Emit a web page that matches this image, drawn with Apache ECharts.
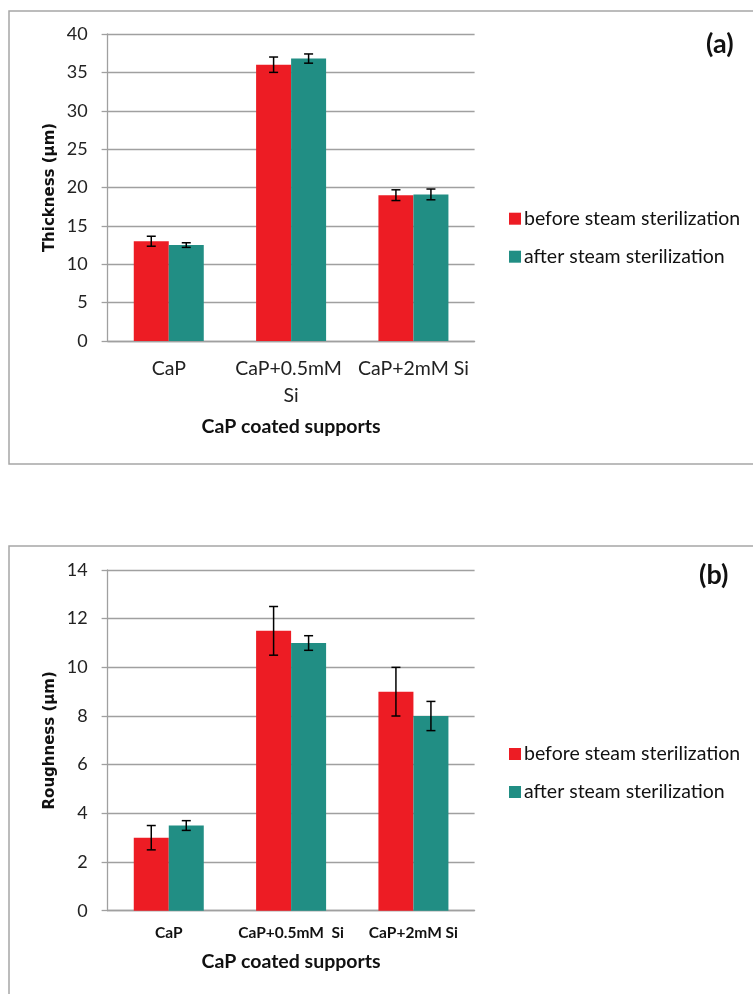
<!DOCTYPE html>
<html><head><meta charset="utf-8">
<script src="https://cdn.jsdelivr.net/npm/echarts@6/dist/echarts.min.js"></script>
<style>html,body{margin:0;padding:0;background:#fff}#c{width:753px;height:994px}</style>
</head><body><div id="c"></div>
<script>
const categoriesA = ['CaP', 'CaP+0.5mM Si', 'CaP+2mM Si'];
const categoriesB = ['CaP', 'CaP+0.5mM  Si', 'CaP+2mM Si'];
const seriesNames = ['before steam sterilization', 'after steam sterilization'];
const thicknessBefore = [13, 36, 19];
const thicknessBeforeErr = [0.65, 1.0, 0.7];
const thicknessAfter = [12.5, 36.8, 19.1];
const thicknessAfterErr = [0.3, 0.6, 0.7];
const roughnessBefore = [3, 11.5, 9];
const roughnessBeforeErr = [0.5, 1.0, 1.0];
const roughnessAfter = [3.5, 11, 8];
const roughnessAfterErr = [0.2, 0.3, 0.6];
const thicknessAxis = { min: 0, max: 40, interval: 5 };
const roughnessAxis = { min: 0, max: 14, interval: 2 };

const RED = '#ED1C24', TEAL = '#218E84';
const FONT = 'Lato';
const GRIDC = '#a0a0a0';
const BW = 35;

function errSeries(xi, vals, errs, offset) {
  return {
    type: 'custom', xAxisIndex: xi, yAxisIndex: xi, silent: true, z: 10,
    data: vals.map((v, i) => [i, v - errs[i], v + errs[i]]),
    encode: { x: 0, y: [1, 2] },
    renderItem: function (params, api) {
      const lo = api.coord([api.value(0), api.value(1)]);
      const hi = api.coord([api.value(0), api.value(2)]);
      const x = lo[0] + offset, hw = 4.5;
      const st = { stroke: '#000', lineWidth: 1.5 };
      return { type: 'group', children: [
        { type: 'line', shape: { x1: x, y1: lo[1], x2: x, y2: hi[1] }, style: st },
        { type: 'line', shape: { x1: x - hw, y1: lo[1], x2: x + hw, y2: lo[1] }, style: st },
        { type: 'line', shape: { x1: x - hw, y1: hi[1], x2: x + hw, y2: hi[1] }, style: st }
      ]};
    }
  };
}

function yAx(gi, ax, name, gap) {
  return {
    type: 'value', gridIndex: gi, min: ax.min, max: ax.max, interval: ax.interval,
    name: name, nameLocation: 'middle', nameGap: gap,
    nameTextStyle: { fontFamily: 'DejaVu Sans', fontWeight: 'bold', fontSize: 15, color: '#111' },
    axisLine: { show: true, lineStyle: { color: GRIDC, width: 1.3 } },
    axisTick: { show: true, length: 6, lineStyle: { color: GRIDC, width: 1.3 } },
    axisLabel: { margin: 20, fontFamily: FONT, fontSize: 18, color: '#222' },
    splitLine: { show: true, lineStyle: { color: GRIDC, width: 1.3 } }
  };
}

function legend(top) {
  return { orient: 'vertical', left: 509, top: top, padding: 0, itemWidth: 12, itemHeight: 12, itemGap: 18, icon: 'rect',
    data: seriesNames, textStyle: { fontFamily: FONT, fontSize: 19.5, lineHeight: 20, color: '#111', padding: [0, 0, 0, -2] } };
}

const chart = echarts.init(document.getElementById('c'), null, { renderer: 'canvas' });
chart.setOption({
  animation: false,
  backgroundColor: '#fff',
  graphic: [
    { type: 'rect', shape: { x: 9, y: 11, width: 780, height: 453 }, style: { fill: 'none', stroke: '#a6a6a6', lineWidth: 1.5 }, z: -1 },
    { type: 'rect', shape: { x: 9, y: 546, width: 780, height: 500 }, style: { fill: 'none', stroke: '#a6a6a6', lineWidth: 1.5 }, z: -1 },
    { type: 'text', left: 706, top: 31, style: { text: '(a)', font: 'bold 27px Lato', fill: '#111' } },
    { type: 'text', left: 699, top: 562, style: { text: '(b)', font: 'bold 27px Lato', fill: '#111' } }
  ],
  grid: [
    { left: 107.6, top: 34, width: 367, height: 307 },
    { left: 107.6, top: 570, width: 367, height: 340.7 }
  ],
  legend: [legend(208.7), legend(744)],
  xAxis: [
    { type: 'category', gridIndex: 0, data: categoriesA,
      name: 'CaP coated supports', nameLocation: 'middle', nameGap: 76,
      nameTextStyle: { fontFamily: FONT, fontWeight: 'bold', fontSize: 19.5, color: '#111' },
      axisLine: { lineStyle: { color: GRIDC, width: 1.3 } }, axisTick: { show: false },
      axisLabel: { margin: 14, fontFamily: FONT, fontSize: 19.5, color: '#222', width: 118, overflow: 'break', lineHeight: 27, interval: 0 } },
    { type: 'category', gridIndex: 1, data: categoriesB,
      name: 'CaP coated supports', nameLocation: 'middle', nameGap: 41,
      nameTextStyle: { fontFamily: FONT, fontWeight: 'bold', fontSize: 19.5, color: '#111' },
      axisLine: { lineStyle: { color: GRIDC, width: 1.3 } }, axisTick: { show: false },
      axisLabel: { margin: 14, fontFamily: FONT, fontSize: 15.5, fontWeight: 'bold', color: '#111', interval: 0 } }
  ],
  yAxis: [
    yAx(0, thicknessAxis, 'Thickness (µm)', 50),
    yAx(1, roughnessAxis, 'Roughness (µm)', 50)
  ],
  series: [
    { type: 'bar', name: seriesNames[0], xAxisIndex: 0, yAxisIndex: 0, data: thicknessBefore, barWidth: BW, barGap: 0, itemStyle: { color: RED } },
    { type: 'bar', name: seriesNames[1], xAxisIndex: 0, yAxisIndex: 0, data: thicknessAfter, barWidth: BW, barGap: 0, itemStyle: { color: TEAL } },
    { type: 'bar', name: seriesNames[0], xAxisIndex: 1, yAxisIndex: 1, data: roughnessBefore, barWidth: BW, barGap: 0, itemStyle: { color: RED } },
    { type: 'bar', name: seriesNames[1], xAxisIndex: 1, yAxisIndex: 1, data: roughnessAfter, barWidth: BW, barGap: 0, itemStyle: { color: TEAL } },
    errSeries(0, thicknessBefore, thicknessBeforeErr, -BW / 2),
    errSeries(0, thicknessAfter, thicknessAfterErr, BW / 2),
    errSeries(1, roughnessBefore, roughnessBeforeErr, -BW / 2),
    errSeries(1, roughnessAfter, roughnessAfterErr, BW / 2)
  ]
});
</script></body></html>
